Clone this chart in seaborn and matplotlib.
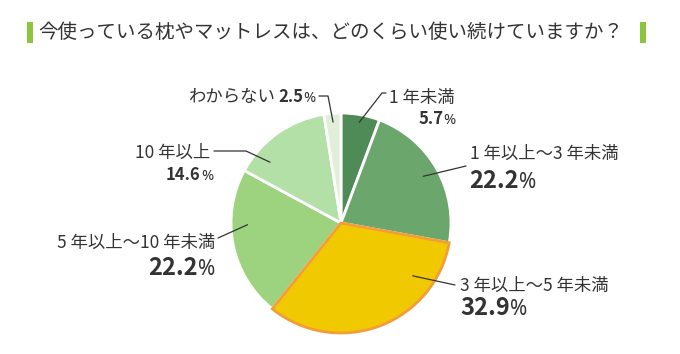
import numpy as np
import matplotlib
matplotlib.use("Agg")
import matplotlib.pyplot as plt
import seaborn as sns
from matplotlib.patches import Rectangle

# data
categories = ["1 年未満", "1 年以上～3 年未満", "3 年以上～5 年未満",
              "5 年以上～10 年未満", "10 年以上", "わからない"]
values = [5.7, 22.2, 32.9, 22.2, 14.6, 2.5]
colors = ["#4f8b56", "#6ba66d", "#f0c900", "#9dd27f", "#b2e0a7", "#e1efd8"]
title = "今使っている枕やマットレスは、どのくらい使い続けていますか？"

sns.set_theme(style="white")
plt.rcParams["font.family"] = ["Noto Sans CJK JP", "DejaVu Sans"]

W, H = 680, 354
fig = plt.figure(figsize=(W / 100, H / 100), dpi=100)
fig.patch.set_facecolor("white")

def fx(x):
    return x / W

def fy(y):
    return 1 - y / H

# pie centre (341, 223), radius 110 px
cx, cy, R = 341, 223, 110
ax = fig.add_axes([fx(cx - R), fy(cy + R), 2 * R / W, 2 * R / H])
wedges, _ = ax.pie(values, colors=colors, startangle=90, counterclock=False,
                   wedgeprops=dict(edgecolor="white", linewidth=2))
ax.set_xlim(-1, 1)
ax.set_ylim(-1, 1)
ax.axis("off")

# highlight 3-5 years slice
wedges[2].set_edgecolor("#f39c3a")
wedges[2].set_linewidth(2)
wedges[2].set_zorder(3)

text_c = "#333333"

# title + green bars
fig.text(fx(38), fy(32), title, fontsize=14, color=text_c, va="center", ha="left")
for bx in (27, 640):
    fig.add_artist(Rectangle((fx(bx), fy(43)), fx(6), 21 / H,
                             transform=fig.transFigure, color="#8cc63f", lw=0))

fig.canvas.draw()
renderer = fig.canvas.get_renderer()

def text_w(s, **kw):
    t = fig.text(0, 0, s, **kw)
    w = t.get_window_extent(renderer).width
    t.remove()
    return w

def pct_kw(big):
    nkw = dict(fontsize=17 if big else 12, fontweight="bold", color=text_c)
    pkw = dict(fontsize=15 if big else 10.5, color=text_c,
               family=["Noto Sans", "DejaVu Sans"])
    return nkw, pkw

def pct_w(val, big):
    nkw, pkw = pct_kw(big)
    return text_w(f"{val:.1f}", **nkw) + text_w("%", **pkw)

def pct(x, y, val, ha, big):
    num = f"{val:.1f}"
    nkw, pkw = pct_kw(big)
    wn = text_w(num, **nkw)
    x0 = x if ha == "left" else x - pct_w(val, big)
    fig.text(fx(x0), fy(y), num, va="baseline", ha="left", **nkw)
    fig.text(fx(x0 + wn), fy(y), "%", va="baseline", ha="left", **pkw)

def anchor(i, frac, r):
    # frac measured from the clockwise end of the wedge
    w = wedges[i]
    a = np.deg2rad(w.theta1 + (w.theta2 - w.theta1) * frac)
    return cx + r * R * np.cos(a), cy - r * R * np.sin(a)

def leader(pts):
    xs = [fx(p[0]) for p in pts]
    ys = [fy(p[1]) for p in pts]
    fig.add_artist(plt.Line2D(xs, ys, transform=fig.transFigure,
                              color=text_c, lw=0.9))

lab = dict(fontsize=12.5, color=text_c)

# わからない
pw = pct_w(values[5], False)
fig.text(fx(316 - pw - 4), fy(102), categories[5], ha="right", va="baseline", **lab)
pct(316, 102, values[5], "right", False)
leader([(319, 96), (328, 96), anchor(5, 0.5, 0.92)])

# 1年未満
fig.text(fx(389), fy(103), categories[0], ha="left", va="baseline", **lab)
pct(456, 124, values[0], "right", False)
leader([(386, 93), (382, 93), anchor(0, 0.5, 0.93)])

# 1-3年
fig.text(fx(470), fy(159), categories[1], ha="left", va="baseline", **lab)
pct(469, 188, values[1], "left", True)
leader([(466, 166), anchor(1, 0.5, 0.86)])

# 3-5年
fig.text(fx(460), fy(291), categories[2], ha="left", va="baseline", **lab)
pct(460, 315, values[2], "left", True)
leader([(455, 285), anchor(2, 0.78, 0.81)])

# 5-10年
fig.text(fx(215), fy(248), categories[3], ha="right", va="baseline", **lab)
pct(215, 275, values[3], "right", True)
leader([(218, 238), anchor(3, 0.37, 0.85)])

# 10年以上
fig.text(fx(210), fy(158), categories[4], ha="right", va="baseline", **lab)
pct(213, 180, values[4], "right", False)
leader([(214, 151), (246, 151), anchor(4, 0.77, 0.85)])

fig.savefig("out.png", dpi=100, facecolor="white")
